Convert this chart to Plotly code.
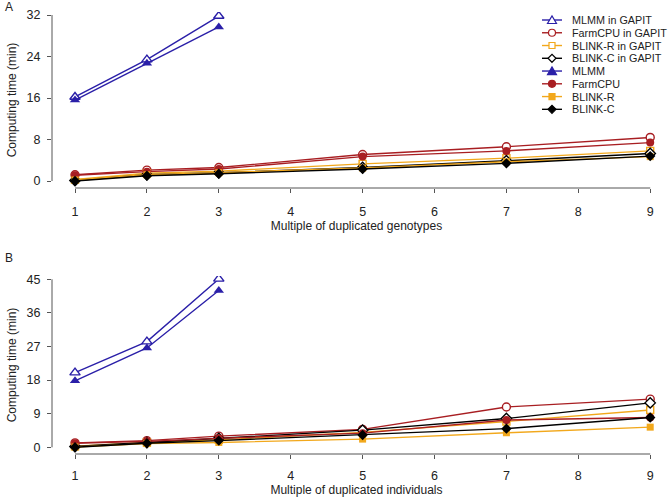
import plotly.graph_objects as go

# ---------------- data ----------------
x_all = [1, 2, 3, 5, 7, 9]
x_mlmm = [1, 2, 3]
x_ticks = [1, 2, 3, 4, 5, 6, 7, 8, 9]

series_names = ["MLMM in GAPIT", "FarmCPU in GAPIT", "BLINK-R in GAPIT", "BLINK-C in GAPIT",
                "MLMM", "FarmCPU", "BLINK-R", "BLINK-C"]

# Panel A: duplicated genotypes (minutes)
a_mlmm_gapit = [16.2, 23.4, 31.8]
a_farmcpu_gapit = [1.2, 2.1, 2.6, 5.1, 6.6, 8.4]
a_blinkr_gapit = [0.3, 1.5, 1.9, 3.3, 4.4, 5.8]
a_blinkc_gapit = [0.1, 1.2, 1.6, 2.6, 3.9, 5.3]
a_mlmm = [15.6, 22.7, 29.7]
a_farmcpu = [1.1, 1.8, 2.3, 4.7, 5.8, 7.4]
a_blinkr = [0.2, 1.2, 1.6, 2.5, 3.7, 4.7]
a_blinkc = [0.0, 1.0, 1.4, 2.3, 3.4, 4.8]
a_yticks = [0, 8, 16, 24, 32]

# Panel B: duplicated individuals (minutes)
b_mlmm_gapit = [20.0, 28.3, 45.1]
b_farmcpu_gapit = [1.2, 1.8, 3.0, 4.8, 10.8, 12.9]
b_blinkr_gapit = [0.3, 1.3, 2.0, 4.0, 6.9, 10.0]
b_blinkc_gapit = [0.2, 1.3, 2.4, 4.6, 7.7, 11.9]
b_mlmm = [17.8, 26.6, 42.0]
b_farmcpu = [1.1, 1.6, 2.4, 3.8, 7.3, 8.0]
b_blinkr = [0.1, 1.0, 1.3, 2.2, 3.9, 5.4]
b_blinkc = [0.0, 1.1, 1.8, 3.3, 5.0, 8.0]
b_yticks = [0, 9, 18, 27, 36, 45]

x_title_a = "Multiple of duplicated genotypes"
x_title_b = "Multiple of duplicated individuals"
y_title = "Computing time (min)"

# ---------------- styles ----------------
BLUE = "#2A1FA8"
RED = "#A81E22"
GOLD = "#F2A81C"
BLACK = "#000000"
AXC = "#555555"
FONT = "Liberation Sans, Arial, sans-serif"

styles = [
    dict(color=BLUE, symbol="triangle-up", open=True),
    dict(color=RED, symbol="circle", open=True),
    dict(color=GOLD, symbol="square", open=True),
    dict(color=BLACK, symbol="diamond", open=True),
    dict(color=BLUE, symbol="triangle-up", open=False),
    dict(color=RED, symbol="circle", open=False),
    dict(color=GOLD, symbol="square", open=False),
    dict(color=BLACK, symbol="diamond", open=False),
]

W, H = 669, 498
ML, MR, MT, MB = 52, 8, 12, 44
PW, PH = W - ML - MR, H - MT - MB


def px2paper_x(px):
    return (px - ML) / PW


def px2paper_y(py):
    return (H - MB - py) / PH


fig = go.Figure()

panels = [
    ("x", "y", [a_mlmm_gapit, a_farmcpu_gapit, a_blinkr_gapit, a_blinkc_gapit,
                a_mlmm, a_farmcpu, a_blinkr, a_blinkc]),
    ("x2", "y2", [b_mlmm_gapit, b_farmcpu_gapit, b_blinkr_gapit, b_blinkc_gapit,
                  b_mlmm, b_farmcpu, b_blinkr, b_blinkc]),
]

for xa, ya, vals in panels:
    for name, st, v in zip(series_names, styles, vals):
        xs = x_mlmm if len(v) == len(x_mlmm) else x_all
        size = 9 if st["symbol"] == "triangle-up" else 8
        if st["symbol"] == "square":
            size = 7
        fig.add_trace(go.Scatter(
            x=xs, y=v, mode="lines+markers", name=name, showlegend=False,
            xaxis=xa, yaxis=ya,
            line=dict(color=st["color"], width=1.4),
            marker=dict(symbol=st["symbol"], size=size,
                        color="white" if st["open"] else st["color"],
                        line=dict(color=st["color"], width=1.4 if st["open"] else 0)),
        ))

dom_a = [px2paper_y(188), 1.0]
dom_b = [0.0, px2paper_y(276)]

common_x = dict(range=[0.68, 9.15], tickvals=x_ticks, ticks="outside", ticklen=4,
                tickcolor=AXC, showline=False, showgrid=False, zeroline=False,
                tickfont=dict(size=12.5, family=FONT, color="#222"),
                domain=[0, 1])
common_y = dict(ticks="outside", ticklen=4, tickcolor=AXC, showline=False,
                showgrid=False, zeroline=False,
                tickfont=dict(size=12.5, family=FONT, color="#222"),
                ticklabelstandoff=4)

fig.update_layout(
    width=W, height=H,
    margin=dict(l=ML, r=MR, t=MT, b=MB, autoexpand=False),
    paper_bgcolor="white", plot_bgcolor="white",
    font=dict(family=FONT, size=12, color="#222"),
    showlegend=False,
    xaxis=dict(**common_x, anchor="y", ticklabelstandoff=8,
               title=dict(text=x_title_a, standoff=2, font=dict(size=12))),
    yaxis=dict(**common_y, domain=dom_a, range=[-1.35, 32.58], tickvals=a_yticks, anchor="x",
               title=dict(text=y_title, standoff=7, font=dict(size=12))),
    xaxis2=dict(**common_x, anchor="y2", ticklabelstandoff=6,
                title=dict(text=x_title_b, standoff=1, font=dict(size=12))),
    yaxis2=dict(**common_y, domain=dom_b, range=[-1.79, 45.88], tickvals=b_yticks, anchor="x2",
                title=dict(text=y_title, standoff=7, font=dict(size=12))),
)

shapes = []
# detached axis lines (R-style)
for xa, ya, yt in [("x", "y", a_yticks), ("x2", "y2", b_yticks)]:
    shapes.append(dict(type="line", xref=f"{xa} domain", yref=ya, x0=0, x1=0,
                       y0=yt[0], y1=yt[-1], line=dict(color=AXC, width=1)))
    shapes.append(dict(type="line", xref=xa, yref=f"{ya} domain", x0=x_ticks[0], x1=x_ticks[-1],
                       y0=0, y1=0, line=dict(color=AXC, width=1)))

annotations = [
    dict(text="A", x=px2paper_x(3), y=px2paper_y(7), xref="paper", yref="paper",
         xanchor="left", yanchor="middle", showarrow=False, font=dict(size=12)),
    dict(text="B", x=px2paper_x(3), y=px2paper_y(258), xref="paper", yref="paper",
         xanchor="left", yanchor="middle", showarrow=False, font=dict(size=12)),
]

# custom compact legend
LEG_X0, LEG_X1, LEG_MX, LEG_TX = 542, 562, 552, 570
LEG_Y0, LEG_DY = 20, 12.76
r = 3.5
for i, (name, st) in enumerate(zip(series_names, styles)):
    py = LEG_Y0 + i * LEG_DY
    yp = px2paper_y(py)
    shapes.append(dict(type="line", xref="paper", yref="paper",
                       x0=px2paper_x(LEG_X0), x1=px2paper_x(LEG_X1), y0=yp, y1=yp,
                       line=dict(color=st["color"], width=1.4)))
    fill = "white" if st["open"] else st["color"]
    base = dict(xref="paper", yref="paper", xsizemode="pixel", ysizemode="pixel",
                xanchor=px2paper_x(LEG_MX), yanchor=yp, fillcolor=fill,
                line=dict(color=st["color"], width=1.2))
    if st["symbol"] == "circle":
        shapes.append(dict(type="circle", x0=-r, x1=r, y0=-r, y1=r, **base))
    elif st["symbol"] == "square":
        shapes.append(dict(type="rect", x0=-3, x1=3, y0=-3, y1=3, **base))
    elif st["symbol"] == "diamond":
        shapes.append(dict(type="path", path="M 0,-4 L 4,0 L 0,4 L -4,0 Z", **base))
    else:
        shapes.append(dict(type="path", path="M -4.5,-3.5 L 4.5,-3.5 L 0,4 Z", **base))
    annotations.append(dict(text=name, x=px2paper_x(LEG_TX), y=yp, xref="paper", yref="paper",
                            xanchor="left", yanchor="middle", showarrow=False,
                            font=dict(size=10.8, color="#222")))

fig.update_layout(shapes=shapes, annotations=annotations)

fig.write_html("out.html", config={"displayModeBar": False},
               post_script="document.body.style.margin='0';document.body.style.overflow='hidden';")
